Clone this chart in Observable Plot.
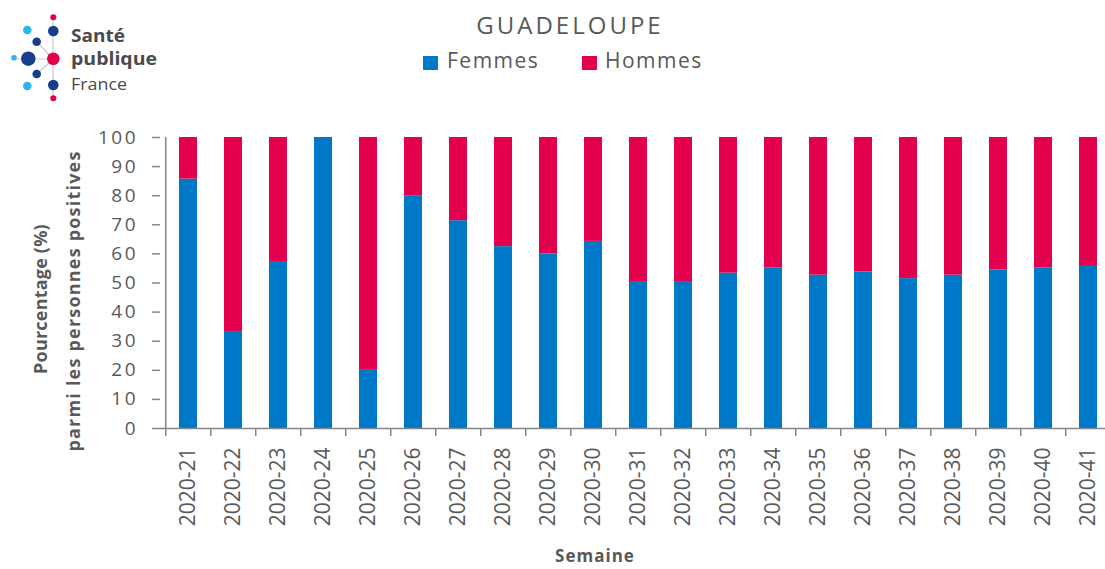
<!DOCTYPE html>
<html>
<head>
<meta charset="utf-8">
<script src="https://cdn.jsdelivr.net/npm/d3@7"></script>
<script src="https://cdn.jsdelivr.net/npm/@observablehq/plot@0.6"></script>
<style>
  html, body { margin: 0; padding: 0; background: #fff; overflow: hidden; }
  #wrap { position: relative; width: 1105px; height: 569px; overflow: hidden; font-family: "Open Sans", sans-serif; color: #595959; }
  #logo { position: absolute; left: 0; top: 0; }
  #title { position: absolute; left: 570px; top: 13px; transform: translateX(-50%); font-size: 24px; line-height: 24px; letter-spacing: 3px; white-space: nowrap; }
  .leg { position: absolute; top: 50px; font-size: 21px; line-height: 21px; letter-spacing: 1.5px; white-space: nowrap; }
  .sw { position: absolute; top: 56px; width: 15px; height: 14px; }
  .ytitle { position: absolute; font-weight: 700; font-size: 18px; line-height: 18px; white-space: nowrap; transform: translate(-50%, -50%) rotate(-90deg); }
  #xtitle { position: absolute; left: 595px; top: 547px; transform: translateX(-50%); font-weight: 700; font-size: 17px; line-height: 17px; letter-spacing: 1px; white-space: nowrap; }
  #chart { position: absolute; left: 0; top: 100px; width: 1116px; }
  #chart svg { max-width: none !important; width: 1116px !important; height: 469px !important; }
  #chart g[aria-label="y-axis tick label"] text { letter-spacing: 2.5px; }
</style>
</head>
<body>
<div id="wrap">
  <svg id="logo" width="170" height="105" viewBox="0 0 170 105">
    <g stroke="#c9c9cf" stroke-width="1.2">
      <line x1="53" y1="59" x2="53" y2="17"/>
      <line x1="53" y1="59" x2="53" y2="98"/>
      <line x1="53" y1="59" x2="14" y2="59"/>
      <line x1="53" y1="59" x2="37" y2="42"/>
      <line x1="53" y1="59" x2="37" y2="74"/>
    </g>
    <circle cx="53.3" cy="17.3" r="3" fill="#e3004f"/>
    <circle cx="27.3" cy="30" r="4.3" fill="#29b6e8"/>
    <circle cx="53.3" cy="31" r="5.3" fill="#173d8c"/>
    <circle cx="36.7" cy="41.7" r="4.3" fill="#173d8c"/>
    <circle cx="14" cy="57.7" r="2.8" fill="#29b6e8"/>
    <circle cx="28.3" cy="58.7" r="7.2" fill="#173d8c"/>
    <circle cx="53.3" cy="58.7" r="6.3" fill="#e3004f"/>
    <circle cx="36.7" cy="74" r="4.3" fill="#173d8c"/>
    <circle cx="27.3" cy="86" r="4.3" fill="#29b6e8"/>
    <circle cx="53.3" cy="85" r="5.3" fill="#173d8c"/>
    <circle cx="53.3" cy="98.3" r="3" fill="#e3004f"/>
    <text x="71" y="41.5" font-family="Open Sans" font-weight="700" font-size="17" fill="#4a4a4a" textLength="54" lengthAdjust="spacingAndGlyphs">Santé</text>
    <text x="71" y="65" font-family="Open Sans" font-weight="700" font-size="17" fill="#4a4a4a" textLength="86" lengthAdjust="spacingAndGlyphs">publique</text>
    <text x="71" y="90" font-family="Open Sans" font-weight="400" font-size="17" fill="#4a4a4a" textLength="56" lengthAdjust="spacingAndGlyphs">France</text>
  </svg>
  <div id="title"></div>
  <div class="sw" id="sw0" style="left:423px;"></div>
  <div class="leg" id="leg0" style="left:447px;"></div>
  <div class="sw" id="sw1" style="left:582px;"></div>
  <div class="leg" id="leg1" style="left:605px;"></div>
  <div class="ytitle" id="yt0" style="left:40px; top:299px; letter-spacing:0.2px;"></div>
  <div class="ytitle" id="yt1" style="left:72.5px; top:301px; letter-spacing:1.2px;"></div>
  <div id="xtitle"></div>
  <div id="chart"></div>
</div>
<script>
// ---- data ----
const titleText = "GUADELOUPE";
const seriesNames = ["Femmes", "Hommes"];
const seriesColors = ["#0078c8", "#e3004f"];
const weeks = ["2020-21","2020-22","2020-23","2020-24","2020-25","2020-26","2020-27","2020-28","2020-29","2020-30","2020-31","2020-32","2020-33","2020-34","2020-35","2020-36","2020-37","2020-38","2020-39","2020-40","2020-41"];
const femmes = [85.7, 33.3, 57.1, 100, 20, 80, 71.4, 62.5, 60, 64.3, 50.5, 50.5, 53.4, 55.2, 52.7, 53.8, 51.5, 52.7, 54.5, 55.2, 55.7];
const hommes = [14.3, 66.7, 42.9, 0, 80, 20, 28.6, 37.5, 40, 35.7, 49.5, 49.5, 46.6, 44.8, 47.3, 46.2, 48.5, 47.3, 45.5, 44.8, 44.3];
const yTicks = [0, 10, 20, 30, 40, 50, 60, 70, 80, 90, 100];
const yTitleLines = ["Pourcentage (%)", "parmi les  personnes positives"];
const xTitle = "Semaine";

// ---- texts ----
document.getElementById("title").textContent = titleText;
seriesNames.forEach((n, i) => {
  document.getElementById("leg" + i).textContent = n;
  document.getElementById("sw" + i).style.background = seriesColors[i];
});
yTitleLines.forEach((t, i) => { document.getElementById("yt" + i).textContent = t; });
document.getElementById("xtitle").textContent = xTitle;

// ---- table ----
const rows = [];
weeks.forEach((w, i) => rows.push({semaine: w, sexe: seriesNames[0], pct: femmes[i]}));
weeks.forEach((w, i) => rows.push({semaine: w, sexe: seriesNames[1], pct: hommes[i]}));

const width = 1116, marginLeft = 160, marginRight = 0;
const step = (width - marginLeft - marginRight) / weeks.length;
const axisGrey = "#868686";

const chart = Plot.plot({
  width, height: 469,
  marginTop: 37, marginBottom: 141, marginLeft, marginRight,
  style: {fontFamily: "Open Sans, sans-serif", color: "#595959", background: "transparent", overflow: "hidden", maxWidth: "none"},
  x: {domain: weeks, paddingInner: 0.61, paddingOuter: 0.305, axis: null},
  y: {domain: [0, 100], axis: null},
  color: {domain: seriesNames, range: seriesColors},
  marks: [
    Plot.barY(rows, {x: "semaine", y: "pct", fill: "sexe"}),
    Plot.ruleY([0], {stroke: axisGrey, strokeWidth: 1.5}),
    Plot.ruleX([weeks[0]], {x: d => d, y1: 0, y2: 100, dx: -step / 2, stroke: axisGrey, strokeWidth: 1.5}),
    Plot.axisY({ticks: yTicks, tickSize: 8, tickPadding: 14.5, stroke: axisGrey, strokeWidth: 1.5, fontSize: 19, label: null}),
    Plot.axisX({tickSize: 8, text: null, dx: -step / 2, stroke: axisGrey, strokeWidth: 1.5, label: null}),
    Plot.axisX({tickSize: 0, tickRotate: -90, tickPadding: 19, fontSize: 21, label: null})
  ]
});
document.getElementById("chart").appendChild(chart);
</script>
</body>
</html>
